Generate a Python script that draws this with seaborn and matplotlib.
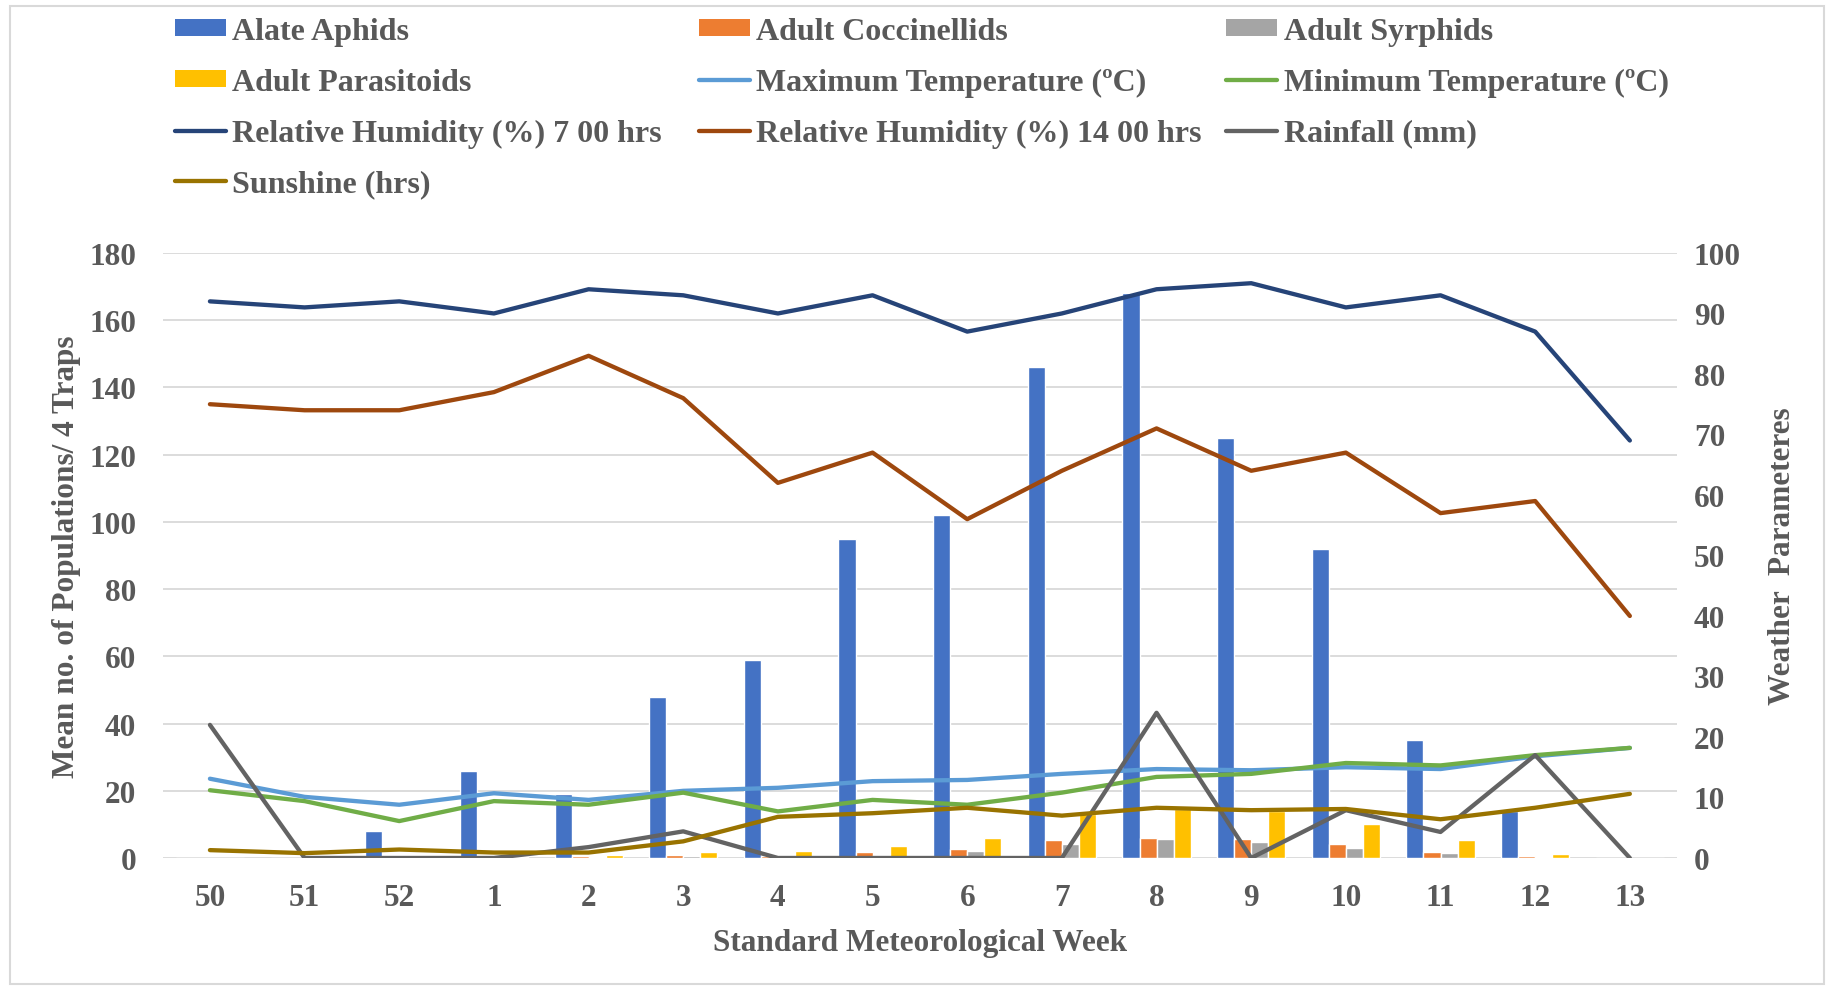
import numpy as np
import pandas as pd
import matplotlib
matplotlib.use("Agg")
import matplotlib.pyplot as plt
from matplotlib.patches import Rectangle, Patch
from matplotlib.lines import Line2D
import seaborn as sns

weeks = ['50', '51', '52', '1', '2', '3', '4', '5', '6', '7', '8', '9', '10', '11', '12', '13']

# insect counts (left axis)
aphids = [0, 0, 8, 26, 19, 48, 59, 95, 102, 146, 168, 125, 92, 35, 14, 0]
coccinellids = [0, 0, 0, 0, 0.5, 1, 0.5, 1.8, 2.7, 5.4, 6, 5.6, 4.2, 1.8, 0.6, 0]
syrphids = [0, 0, 0, 0, 0.3, 0.5, 0, 1, 2.2, 4.2, 5.7, 4.8, 3, 1.5, 0.3, 0]
parasitoids = [0, 0, 0, 0.3, 1, 1.8, 2.1, 3.6, 6, 13, 14.5, 14, 10, 5.4, 1.2, 0]

# weather (right axis)
max_temp = [13.1, 10.1, 8.8, 10.7, 9.6, 11.1, 11.6, 12.7, 12.9, 13.9, 14.7, 14.5, 15, 14.7, 16.8, 18.2]
min_temp = [11.2, 9.4, 6.1, 9.4, 8.8, 10.8, 7.7, 9.6, 8.8, 10.8, 13.4, 13.9, 15.7, 15.3, 17, 18.2]
rh_7 = [92, 91, 92, 90, 94, 93, 90, 93, 87, 90, 94, 95, 91, 93, 87, 69]
rh_14 = [75, 74, 74, 77, 83, 76, 62, 67, 56, 64, 71, 64, 67, 57, 59, 40]
rainfall = [22, 0, 0, 0, 1.8, 4.4, 0, 0, 0, 0, 24, 0, 7.9, 4.3, 17, 0]
sunshine = [1.3, 0.8, 1.4, 0.9, 0.9, 2.75, 6.8, 7.4, 8.3, 7, 8.3, 7.9, 8.1, 6.4, 8.3, 10.6]

bar_names = ['Alate Aphids', 'Adult Coccinellids', 'Adult Syrphids', 'Adult Parasitoids']
bar_colors = ['#4472C4', '#ED7D31', '#A5A5A5', '#FFC000']
line_names = ['Maximum Temperature (ºC)', 'Minimum Temperature (ºC)',
              'Relative Humidity (%) 7 00 hrs', 'Relative Humidity (%) 14 00 hrs',
              'Rainfall (mm)', 'Sunshine (hrs)']
line_colors = ['#5B9BD5', '#70AD47', '#264478', '#9E480E', '#636363', '#997300']

bars = pd.DataFrame({
    'week': weeks * 4,
    'count': aphids + coccinellids + syrphids + parasitoids,
    'series': sum([[n] * len(weeks) for n in bar_names], []),
})
lines = pd.DataFrame({
    'pos': list(range(len(weeks))) * 6,
    'value': max_temp + min_temp + rh_7 + rh_14 + rainfall + sunshine,
    'param': sum([[n] * len(weeks) for n in line_names], []),
})

sns.set_theme(style='white')
plt.rcParams['font.family'] = ['Liberation Serif', 'DejaVu Serif']
plt.rcParams['font.weight'] = 'bold'
txt = '#595959'
fs = 22.5
lw = 3.1

fig = plt.figure(figsize=(18.27, 9.87), dpi=100)
ax = fig.add_axes([0.089, 0.1297, 0.829, 0.613])

sns.barplot(data=bars, x='week', y='count', hue='series', order=weeks,
            hue_order=bar_names, palette=bar_colors, width=0.72, gap=0,
            saturation=1, legend=False, ax=ax, zorder=2)
ax.set_ylim(0, 180)
ax.set_yticks(range(0, 181, 20))
ax.set_xlim(-0.5, len(weeks) - 0.5)
ax.grid(axis='y', color='#D9D9D9', lw=1.3, zorder=0)
ax.set_axisbelow(True)
for s in ax.spines.values():
    s.set_visible(False)
ax.tick_params(axis='both', length=0, labelsize=fs, labelcolor=txt)
ax.tick_params(axis='y', pad=19)
ax.tick_params(axis='x', pad=18)
ax.set_xlabel('Standard Meteorological Week', fontsize=fs, color=txt, fontweight='bold', va='center')
ax.xaxis.set_label_coords(0.5, -0.139)
ax.set_ylabel('Mean no. of Populations/ 4 Traps', fontsize=fs, color=txt, fontweight='bold', va='center')
ax.yaxis.set_label_coords(-0.0635, 0.5)

ax2 = ax.twinx()
sns.lineplot(data=lines, x='pos', y='value', hue='param', hue_order=line_names,
             palette=line_colors, lw=lw, legend=False, ax=ax2,
             solid_capstyle='round', solid_joinstyle='round')
ax2.set_ylim(0, 100)
ax2.set_yticks(range(0, 101, 10))
ax2.set_xlim(-0.5, len(weeks) - 0.5)
for s in ax2.spines.values():
    s.set_visible(False)
ax2.tick_params(axis='y', length=0, labelsize=fs, labelcolor=txt, pad=12)
ax2.set_xlabel('')
ax2.set_ylabel('Weather  Parameteres', fontsize=fs, color=txt, fontweight='bold', va='center')
ax2.yaxis.set_label_coords(1.0695, 0.5)

# legend in three columns (Excel-like equal column widths)
handles = {n: Patch(facecolor=c, edgecolor='none') for n, c in zip(bar_names, bar_colors)}
handles.update({n: Line2D([], [], color=c, lw=lw, solid_capstyle='round')
                for n, c in zip(line_names, line_colors)})
all_names = bar_names + line_names
cols = [all_names[0::3], all_names[1::3], all_names[2::3]]
col_x = [175, 699, 1226]
for names, x in zip(cols, col_x):
    fig.legend([handles[n] for n in names], names, loc='upper left',
               bbox_to_anchor=(x / 1827, 1 - 18 / 987), frameon=False,
               fontsize=23, labelcolor=txt, handlelength=1.6, handleheight=0.45,
               handletextpad=0.2, labelspacing=0.68, borderpad=0, borderaxespad=0)

fig.patches.append(Rectangle((10 / 1827, 2 / 987), 1814 / 1827, 978 / 987,
                             transform=fig.transFigure, fill=False,
                             edgecolor='#D9D9D9', lw=1.5))

fig.savefig('out.png', dpi=100)
